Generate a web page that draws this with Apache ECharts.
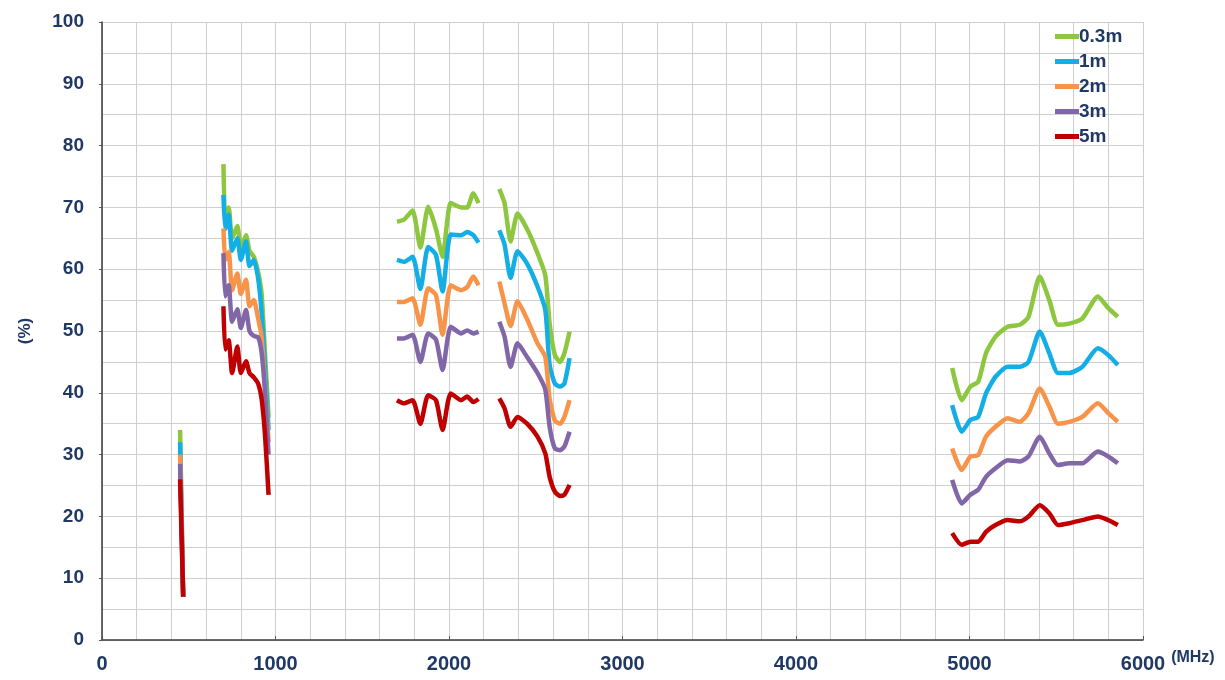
<!DOCTYPE html>
<html>
<head>
<meta charset="utf-8">
<script src="https://cdn.jsdelivr.net/npm/echarts@6/dist/echarts.min.js"></script>
<style>
  html, body { margin: 0; padding: 0; background: #fff; }
  #main { width: 1225px; height: 680px; }
</style>
</head>
<body>
<div id="main"></div>
<script>
// frequency (MHz), null = gap between bands
var freq = [450, 468, null,
    700, 710, 730, 750, 780, 800, 830, 850, 875, 900, 920, 940, 960, null,
    1700, 1740, 1790, 1835, 1880, 1925, 1963, 2010, 2070, 2105, 2140, 2170, null,
    2290, 2320, 2355, 2395, 2450, 2510, 2555, 2580, 2610, 2640, 2665, 2695, null,
    4900, 4955, 5005, 5050, 5095, 5150, 5220, 5290, 5340, 5405, 5460, 5510, 5575, 5650, 5740, 5800, 5855]

var v03m = [34, 7, null,
    77, 68, 70, 65, 67, 63.5, 65.5, 63, 62, 59.5, 56, 46, 36, null,
    67.7, 68, 69.5, 63.5, 70.1, 66.5, 62, 70.7, 70, 70, 72.3, 70.7, null,
    73, 70.7, 64.5, 69, 66.5, 62.6, 59, 51.2, 46.1, 45, 46.4, 49.9, null,
    44, 38.8, 41, 41.8, 46.4, 49.1, 50.7, 51, 52.3, 58.8, 55, 51, 51.2, 52, 55.6, 53.7, 52.3]

var v1m = [32, 7, null,
    72, 66.5, 68.8, 63, 65, 61.5, 64.5, 60.5, 61.5, 58.5, 53, 44, 34, null,
    61.5, 61.2, 62, 56.8, 63.6, 62.3, 56.4, 65.6, 65.5, 66, 65.5, 64.3, null,
    66.3, 64, 58.6, 62.9, 60.9, 57.2, 53.4, 44.5, 41.5, 41, 41.5, 45.6, null,
    38, 33.7, 35.6, 36.1, 39.9, 42.6, 44.2, 44.2, 45, 49.9, 46.4, 43.2, 43.2, 44.2, 47.2, 46.1, 44.5]

var v2m = [30, 7, null,
    66.6, 61.5, 62.8, 56.6, 59.3, 56, 58.3, 54, 55, 52, 49, 41, 32, null,
    54.7, 54.7, 55.3, 51, 56.9, 55.8, 49.4, 57.4, 56.6, 57.1, 58.8, 57.4, null,
    58, 54.5, 50.8, 54.8, 51.9, 48, 45.8, 39, 35.5, 35, 36.1, 38.8, null,
    31, 27.5, 29.7, 29.9, 32.9, 34.5, 35.9, 35.3, 36.7, 40.7, 37.8, 35, 35.3, 36.1, 38.3, 36.7, 35.3]

var v3m = [28.5, 7, null,
    62.6, 55.6, 57.4, 51.5, 53.5, 50.5, 53.4, 50, 49.2, 49, 46.5, 40, 30, null,
    48.8, 48.8, 49.4, 45, 49.6, 48.6, 43.7, 50.7, 49.6, 50.1, 49.6, 49.9, null,
    51.5, 49.1, 44.2, 48, 45.8, 43.2, 40.5, 34.5, 31, 30.7, 31.3, 33.7, null,
    25.9, 22.1, 23.5, 24.3, 26.4, 27.8, 29.1, 28.9, 29.7, 32.9, 30.2, 28.3, 28.6, 28.6, 30.5, 29.7, 28.6]

var v5m = [26, 7, null,
    54, 47, 48.5, 43.2, 47.5, 43.2, 45.1, 43.2, 42.5, 41.5, 39, 33, 23.5, null,
    38.8, 38.3, 38.8, 35, 39.6, 38.8, 34, 39.9, 38.8, 39.4, 38.5, 39, null,
    39.1, 37.5, 34.5, 36.1, 35, 32.9, 30.2, 26.4, 24, 23.3, 23.5, 25.1, null,
    17.3, 15.4, 15.9, 15.9, 17.5, 18.6, 19.4, 19.2, 20, 21.8, 20.5, 18.6, 18.9, 19.4, 20, 19.4, 18.6]

var names = ['0.3m', '1m', '2m', '3m', '5m']
var colors = ['#8dc63f', '#13aee6', '#f7944a', '#8167a8', '#c00000']
var values = [v03m, v1m, v2m, v3m, v5m]

var textColor = '#1f3864'
var font = "'Liberation Sans Narrow', 'Arial Narrow', 'Liberation Sans', sans-serif"

function toPairs(vals) {
    return freq.map(function (f, i) {
        return f == null ? ['-', '-'] : [f, vals[i]]
    })
}

var myChart = echarts.init(document.getElementById('main'))
myChart.setOption({
    animation: false,
    color: colors,
    grid: { left: 102, right: 82, top: 22, bottom: 40 },
    legend: {
        orient: 'vertical',
        left: 1050,
        top: 22,
        itemWidth: 24,
        itemHeight: 5,
        itemGap: 6,
        icon: 'rect',
        textStyle: { color: textColor, fontFamily: font, fontWeight: 'bold', fontSize: 19, padding: [0, 0, 0, -5] },
        data: names
    },
    xAxis: {
        type: 'value',
        min: 0,
        max: 6000,
        interval: 1000,
        name: '(MHz)',
        nameLocation: 'end',
        nameGap: 26,
        nameTextStyle: { color: textColor, fontFamily: font, fontWeight: 'bold', fontSize: 16, verticalAlign: 'top', padding: [10, 0, 0, 0] },
        axisLine: { lineStyle: { color: '#3a3a3a', width: 1.5 } },
        axisTick: { show: true, inside: true, length: 4, lineStyle: { color: '#555' } },
        axisLabel: {
            color: textColor, fontFamily: font, fontWeight: 'bold', fontSize: 20, margin: 14,
            formatter: function (v) { return String(v) }
        },
        splitLine: { show: true, lineStyle: { color: '#cfcfcf' } },
        minorTick: { show: false, splitNumber: 5 },
        minorSplitLine: { show: true, lineStyle: { color: '#cfcfcf' } }
    },
    yAxis: {
        type: 'value',
        min: 0,
        max: 100,
        interval: 10,
        name: '(%)',
        nameLocation: 'middle',
        nameGap: 68,
        nameTextStyle: { color: textColor, fontFamily: font, fontWeight: 'bold', fontSize: 17 },
        axisLine: { show: true, lineStyle: { color: '#3a3a3a', width: 1.5 } },
        axisTick: { show: true, length: 3, lineStyle: { color: '#555' } },
        axisLabel: { color: textColor, fontFamily: font, fontWeight: 'bold', fontSize: 19, margin: 18 },
        splitLine: { show: true, lineStyle: { color: '#cfcfcf' } },
        minorTick: { show: false, splitNumber: 2 },
        minorSplitLine: { show: true, lineStyle: { color: '#cfcfcf' } }
    },
    series: names.map(function (n, i) {
        return {
            name: n,
            type: 'line',
            data: toPairs(values[i]),
            symbol: 'none',
            smooth: 0.2,
            connectNulls: false,
            lineStyle: { width: 4.5, color: colors[i] }
        }
    })
})
</script>
</body>
</html>
